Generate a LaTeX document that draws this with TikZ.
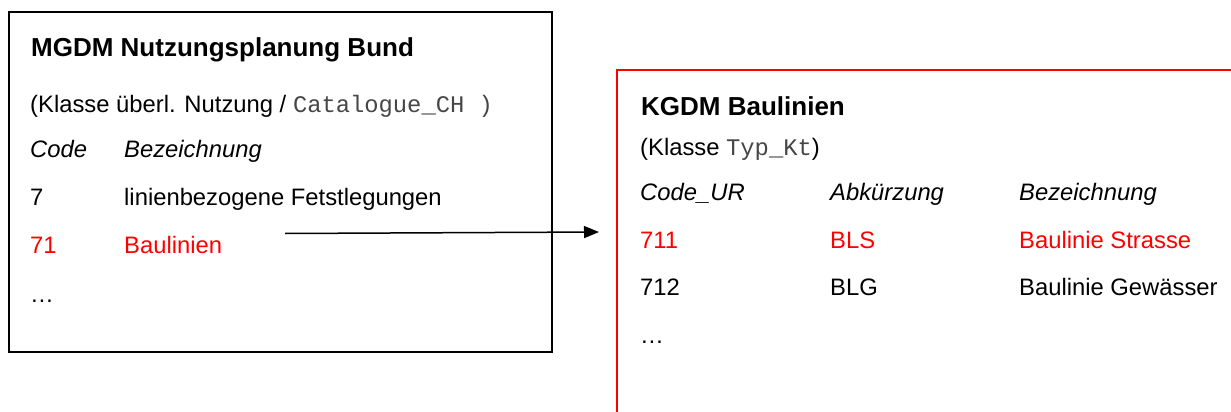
\documentclass[tikz,border=0pt]{standalone}
\usepackage{fontspec}
\setmainfont{Liberation Sans}
\setmonofont{Liberation Mono}
\usetikzlibrary{arrows.meta}
\definecolor{redline}{RGB}{255,0,0}
\definecolor{monogray}{RGB}{70,70,70}
\newcommand{\mono}[1]{{\color{monogray}\texttt{#1}}}
\tikzset{
  txt/.style={anchor=base west, inner sep=0pt, font=\fontsize{23.8}{28}\selectfont},
  hl/.style={txt, text=redline},
  ttl/.style={txt, font=\fontsize{26}{30}\selectfont\bfseries},
  hdr/.style={txt, font=\fontsize{23.8}{28}\selectfont\itshape},
  boxline/.style={line width=1.5pt},
}
\begin{document}
\begin{tikzpicture}[x=1pt,y=-1pt]
\useasboundingbox (0,0) rectangle (1231,412);
\clip (0,0) rectangle (1231,412);
% left box
\draw[boxline] (9,12) rectangle (552,352);
\node[ttl] (t1) at (31,57) {MGDM Nutzungsplanung Bund};
\node[txt] (k1) at (30,112) {(Klasse überl. Nutzung / \mono{Catalogue\_CH )}};
\node[hdr] (h1) at (30,157) {Code};
\node[hdr] (h2) at (124,157) {Bezeichnung};
\node[txt] (c7) at (30,205) {7};
\node[txt] (d7) at (124,205) {linienbezogene Fetstlegungen};
\node[hl] (c71) at (30,253) {71};
\node[hl] (d71) at (124,253) {Baulinien};
\node[txt] (e1) at (30,302) {…};
% right box
\draw[boxline, draw=redline] (617,70) rectangle (1260,440);
\node[ttl] (t2) at (641,115) {KGDM Baulinien};
\node[txt] (k2) at (640,155) {(Klasse \mono{Typ\_Kt})};
\node[hdr] (g1) at (640,200) {Code\_UR};
\node[hdr] (g2) at (830,200) {Abkürzung};
\node[hdr] (g3) at (1019,200) {Bezeichnung};
\node[hl] (a1) at (640,248) {711};
\node[hl] (a2) at (830,248) {BLS};
\node[hl] (a3) at (1019,248) {Baulinie Strasse};
\node[txt] (b1) at (640,295) {712};
\node[txt] (b2) at (830,295) {BLG};
\node[txt] (b3) at (1019,295) {Baulinie Gewässer};
\node[txt] (e2) at (640,343) {…};
% arrow
\coordinate (src) at (285,233.5);
\coordinate (dst) at (599,232);
\draw[line width=1.5pt, -{Triangle[length=15pt,width=12pt]}] (src) -- (dst);
\end{tikzpicture}
\end{document}
